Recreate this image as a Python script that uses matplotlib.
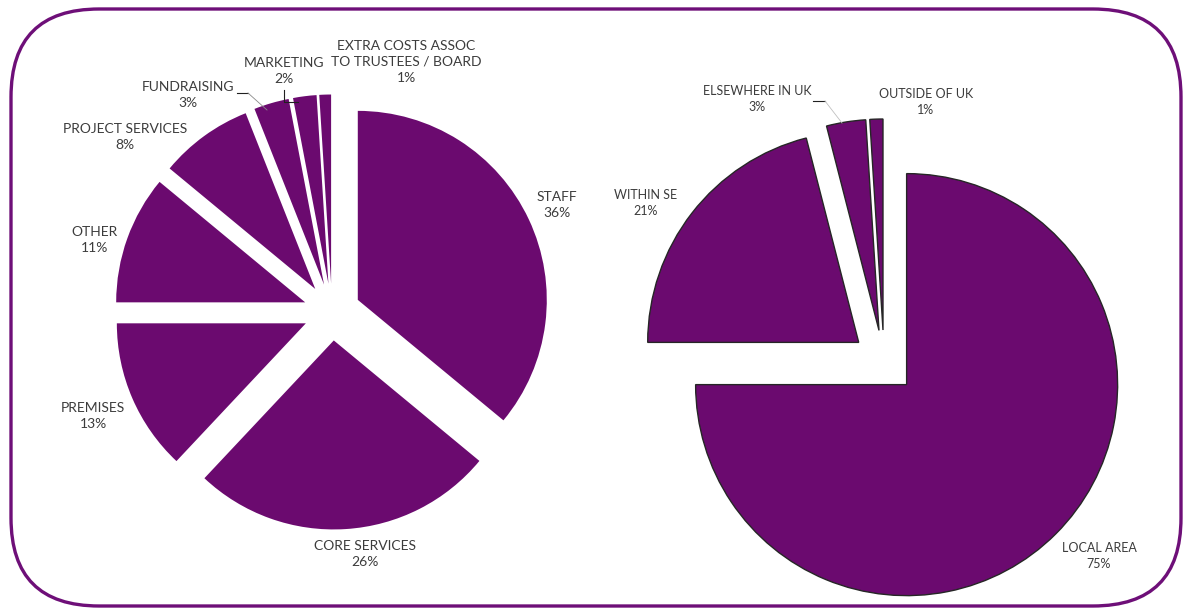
import matplotlib
matplotlib.use("Agg")
import matplotlib.pyplot as plt
from matplotlib.patches import FancyBboxPatch

# ---- data -------------------------------------------------------------
cost_labels = ["STAFF", "CORE SERVICES", "PREMISES", "OTHER",
               "PROJECT SERVICES", "FUNDRAISING", "MARKETING",
               "EXTRA COSTS ASSOC\nTO TRUSTEES / BOARD"]
cost_pct = [36, 26, 13, 11, 8, 3, 2, 1]

area_labels = ["LOCAL AREA", "WITHIN SE", "ELSEWHERE IN UK", "OUTSIDE OF UK"]
area_pct = [75, 21, 3, 1]

# ---- layout (pixel space, y measured from the top) --------------------
W, H = 1185, 608
PURPLE = "#6B0A6F"
BORDER = "#6E0F78"
TEXT = "#3c3c3c"

cost_label_pos = [(557, 205), (365, 554), (93, 416), (95, 240),
                  (125, 137), (188, 95), (284, 71), (406, 62)]
area_label_pos = [(1099, 556), (646, 203), (757, 99), (926, 102)]

plt.rcParams["font.family"] = ["Lato", "DejaVu Sans"]

fig = plt.figure(figsize=(W / 100, H / 100), dpi=100)
ax = fig.add_axes([0, 0, 1, 1])


def fy(y):
    """Convert a top-down pixel row to the axes' bottom-up y."""
    return H - y


# rounded frame around both charts
frame = FancyBboxPatch((11, fy(606)), 1170, 597,
                       boxstyle="round,pad=0,rounding_size=88",
                       facecolor="none", edgecolor=BORDER, linewidth=2.4,
                       zorder=0)
ax.add_patch(frame)

# left pie: cost breakdown (explode offsets are in pixels)
ax.pie(cost_pct, explode=[28.5] * len(cost_pct), startangle=90,
       counterclock=False, radius=189, center=(332, fy(312)),
       colors=[PURPLE] * len(cost_pct),
       wedgeprops=dict(edgecolor="none", linewidth=0), frame=True)

# right pie: where beneficiaries come from
ax.pie(area_pct, explode=[32] * len(area_pct), startangle=90,
       counterclock=False, radius=211, center=(884, fy(362)),
       colors=[PURPLE] * len(area_pct),
       wedgeprops=dict(edgecolor="#262626", linewidth=1.0), frame=True)

for lab, pct, (x, y) in zip(cost_labels, cost_pct, cost_label_pos):
    ax.text(x, fy(y), f"{lab}\n{pct}%", ha="center", va="center",
            fontsize=10, color=TEXT, linespacing=1.4)

for lab, pct, (x, y) in zip(area_labels, area_pct, area_label_pos):
    ax.text(x, fy(y), f"{lab}\n{pct}%", ha="center", va="center",
            fontsize=9, color=TEXT, linespacing=1.35)

# leader lines for the thin slices
ax.plot([237, 248], [fy(93), fy(93)], color="#202020", lw=0.8)
ax.plot([248, 267], [fy(93), fy(110)], color="#8a8a8a", lw=0.6)
ax.plot([284, 284, 298], [fy(90), fy(102), fy(102)], color="#202020", lw=0.8)
ax.plot([813, 825], [fy(101), fy(101)], color="#202020", lw=0.8)
ax.plot([825, 842], [fy(101), fy(123)], color="#c0c0c0", lw=0.6)

ax.set_xlim(0, W)
ax.set_ylim(0, H)
ax.set_aspect("auto")
ax.axis("off")

fig.savefig("out.png", dpi=100, facecolor="white")
